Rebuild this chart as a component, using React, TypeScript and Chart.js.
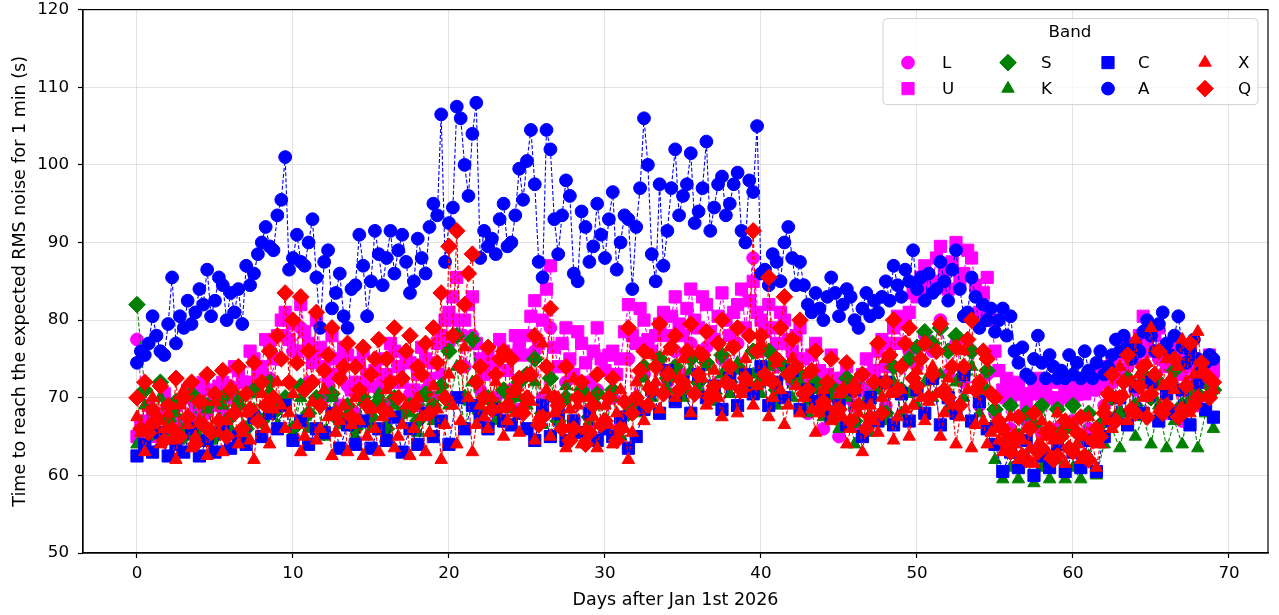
import React, { useEffect, useRef } from "react";
import { Chart, registerables } from "chart.js";

Chart.register(...registerables);

// ---------------- DATA ----------------
const X_TICKS = [0, 10, 20, 30, 40, 50, 60, 70];
const Y_TICKS = [50, 60, 70, 80, 90, 100, 110, 120];

const DAYS_HALF = [
  0, 0.5, 1, 1.5, 2, 2.5, 3, 3.5, 4, 4.5,
  5, 5.5, 6, 6.5, 7, 7.5, 8, 8.5, 9, 9.5,
  10, 10.5, 11, 11.5, 12, 12.5, 13, 13.5, 14, 14.5,
  15, 15.5, 16, 16.5, 17, 17.5, 18, 18.5, 19, 19.5,
  20, 20.5, 21, 21.5, 22, 22.5, 23, 23.5, 24, 24.5,
  25, 25.5, 26, 26.5, 27, 27.5, 28, 28.5, 29, 29.5,
  30, 30.5, 31, 31.5, 32, 32.5, 33, 33.5, 34, 34.5,
  35, 35.5, 36, 36.5, 37, 37.5, 38, 38.5, 39, 39.5,
  40, 40.5, 41, 41.5, 42, 42.5, 43, 43.5, 44, 44.5,
  45, 45.5, 46, 46.5, 47, 47.5, 48, 48.5, 49, 49.5,
  50, 50.5, 51, 51.5, 52, 52.5, 53, 53.5, 54, 54.5,
  55, 55.5, 56, 56.5, 57, 57.5, 58, 58.5, 59, 59.5,
  60, 60.5, 61, 61.5, 62, 62.5, 63, 63.5, 64, 64.5,
  65, 65.5, 66, 66.5, 67, 67.5, 68, 68.5, 69,
];

const DAYS_QUARTER = [
  0, 0.25, 0.5, 0.75, 1, 1.25, 1.5, 1.75, 2, 2.25, 2.5, 2.75, 3, 3.25, 3.5, 3.75, 4, 4.25, 4.5, 4.75,
  5, 5.25, 5.5, 5.75, 6, 6.25, 6.5, 6.75, 7, 7.25, 7.5, 7.75, 8, 8.25, 8.5, 8.75, 9, 9.25, 9.5, 9.75,
  10, 10.25, 10.5, 10.75, 11, 11.25, 11.5, 11.75, 12, 12.25, 12.5, 12.75, 13, 13.25, 13.5, 13.75, 14, 14.25, 14.5, 14.75,
  15, 15.25, 15.5, 15.75, 16, 16.25, 16.5, 16.75, 17, 17.25, 17.5, 17.75, 18, 18.25, 18.5, 18.75, 19, 19.25, 19.5, 19.75,
  20, 20.25, 20.5, 20.75, 21, 21.25, 21.5, 21.75, 22, 22.25, 22.5, 22.75, 23, 23.25, 23.5, 23.75, 24, 24.25, 24.5, 24.75,
  25, 25.25, 25.5, 25.75, 26, 26.25, 26.5, 26.75, 27, 27.25, 27.5, 27.75, 28, 28.25, 28.5, 28.75, 29, 29.25, 29.5, 29.75,
  30, 30.25, 30.5, 30.75, 31, 31.25, 31.5, 31.75, 32, 32.25, 32.5, 32.75, 33, 33.25, 33.5, 33.75, 34, 34.25, 34.5, 34.75,
  35, 35.25, 35.5, 35.75, 36, 36.25, 36.5, 36.75, 37, 37.25, 37.5, 37.75, 38, 38.25, 38.5, 38.75, 39, 39.25, 39.5, 39.75,
  40, 40.25, 40.5, 40.75, 41, 41.25, 41.5, 41.75, 42, 42.25, 42.5, 42.75, 43, 43.25, 43.5, 43.75, 44, 44.25, 44.5, 44.75,
  45, 45.25, 45.5, 45.75, 46, 46.25, 46.5, 46.75, 47, 47.25, 47.5, 47.75, 48, 48.25, 48.5, 48.75, 49, 49.25, 49.5, 49.75,
  50, 50.25, 50.5, 50.75, 51, 51.25, 51.5, 51.75, 52, 52.25, 52.5, 52.75, 53, 53.25, 53.5, 53.75, 54, 54.25, 54.5, 54.75,
  55, 55.25, 55.5, 55.75, 56, 56.25, 56.5, 56.75, 57, 57.25, 57.5, 57.75, 58, 58.25, 58.5, 58.75, 59, 59.25, 59.5, 59.75,
  60, 60.25, 60.5, 60.75, 61, 61.25, 61.5, 61.75, 62, 62.25, 62.5, 62.75, 63, 63.25, 63.5, 63.75, 64, 64.25, 64.5, 64.75,
  65, 65.25, 65.5, 65.75, 66, 66.25, 66.5, 66.75, 67, 67.25, 67.5, 67.75, 68, 68.25, 68.5, 68.75, 69,
];

// half-day sampled bands
const L_VALUES = [
  77.5, 66, 68, 65, 69, 66.5, 70, 67, 71, 68,
  70, 68.5, 71.5, 70, 72, 71, 73, 72.5, 75, 78,
  76, 79, 72, 75.5, 70, 73, 69, 71.5, 68, 72,
  68.5, 71, 69, 72, 68, 70.5, 69, 71, 70, 73,
  77, 80, 74, 78, 71, 66.5, 70, 67, 71, 68.5,
  73, 76, 70, 79, 68, 72, 67, 70.5, 66, 71,
  67, 70, 66.5, 75, 70, 73, 71, 74, 72, 76,
  73, 77, 72, 76.5, 71.5, 75, 73, 77, 72, 88,
  76, 79, 74, 77, 72, 75, 68, 73, 66, 71,
  65, 70, 66.5, 71, 67, 72, 69, 74, 71, 76,
  74, 78, 76, 80, 73, 77, 72, 76, 69, 73,
  68, 70, 66, 70.5, 67, 71, 65.5, 70, 66, 71,
  67, 70.5, 66, 71, 69, 72, 70, 74, 71, 76,
  70, 75, 68, 73.5, 67, 72, 69, 74, 73,
];

const S_VALUES = [
  82, 71, 65.5, 72, 67, 69.5, 65, 70.5, 66.5, 69,
  65, 70, 67.5, 69, 66, 71, 67, 72, 68.5, 70,
  66, 71.5, 68, 70, 65.5, 70.5, 67, 69, 66, 70,
  67.5, 69.5, 66, 70, 68, 69, 67, 70.5, 69, 71.5,
  76, 78, 70, 77.5, 68, 70, 69, 71, 70, 72,
  73, 75, 68, 72.5, 67, 70, 66, 71, 67.5, 70.5,
  67, 71, 66, 68, 69, 74, 71, 75, 72.5, 74,
  71, 75, 72, 74.5, 70.5, 75.5, 72, 74, 71.5, 76,
  72, 76, 71, 74, 72.5, 73, 70, 72, 68.5, 71.5,
  70, 72.5, 67, 73, 70, 71.5, 68, 74, 71, 75,
  76.5, 78.5, 77, 79, 76, 78, 73, 76, 71, 73.5,
  68.5, 66, 69, 65, 68, 66.5, 69, 65.5, 68.5, 66,
  69, 65, 68, 66, 67, 70, 68, 72.5, 69, 73,
  70, 72, 68.5, 73.5, 69, 71, 70.5, 72, 71,
];

const K_VALUES = [
  64, 69, 65.5, 70, 64.5, 68, 66, 70.5, 65, 68.5,
  65.5, 69, 66, 70, 65, 68.5, 67, 71, 66.5, 69,
  65.5, 70, 66, 69.5, 65, 70, 66.5, 68, 65, 69.5,
  66, 70.5, 65, 69, 66.5, 68, 65.5, 70, 67, 71,
  69, 74, 66, 72, 68, 70, 67, 71, 68.5, 70,
  69, 72, 66.5, 70, 68, 71.5, 66, 70.5, 67, 69,
  66, 70, 65, 68.5, 68, 72.5, 70, 74, 71, 73,
  70, 73.5, 71, 74, 69.5, 73, 70.5, 74.5, 71, 73,
  70.5, 74, 69, 73, 70, 72, 68, 71, 67.5, 70,
  66, 70, 64, 69, 65.5, 71, 67, 72, 68, 70.5,
  69, 72, 70, 73, 68.5, 72, 70, 74, 68, 71,
  62, 59.5, 61, 59.5, 62.5, 59, 61, 59.5, 62, 59.5,
  61, 59.5, 62.5, 60, 64, 66, 63.5, 68, 65, 67.5,
  64, 69, 63.5, 67, 64, 70, 63.5, 68, 66,
];

const C_VALUES = [
  62.5, 64, 63, 65.5, 62.5, 64, 63, 66, 62.5, 64.5,
  63, 66.5, 63.5, 65, 64, 67.5, 65, 68, 66, 69,
  64.5, 67, 64, 66, 65.5, 68, 63.5, 66.5, 64, 67,
  63.5, 66, 64.5, 67.5, 63, 66, 64, 68, 65, 67,
  64, 70, 66, 69, 67.5, 66, 68.5, 67, 66.5, 68,
  66, 64.5, 69, 65, 68, 64.5, 67, 65.5, 68, 64.5,
  66, 65, 67.5, 63.5, 65, 68.5, 71, 68, 73.5, 69.5,
  72, 68, 73, 70, 71.5, 68.5, 72.5, 69, 73, 70.5,
  74, 69, 72, 70, 73.5, 68.5, 71, 69.5, 70, 67.5,
  69, 66.5, 71, 65, 70, 67, 72, 66.5, 70.5, 67,
  71, 68, 72.5, 66.5, 70, 68, 73, 67, 69.5, 66,
  64, 60.5, 63, 61, 64.5, 60, 62.5, 61, 64, 60.5,
  63, 61, 64.5, 60.5, 65, 67, 70, 66.5, 71.5, 68,
  72, 67, 70.5, 68, 71, 66.5, 72, 68.5, 67.5,
];

// quarter-day sampled bands
const U_VALUES = [
  65, 67, 64, 69, 66.5, 65, 68, 70.5, 65, 67.5, 69, 66, 67, 71, 70, 68.5, 68, 72, 71, 69,
  69.5, 71.5, 72, 70, 71, 74, 73.5, 72, 72, 76, 75, 73, 74, 77.5, 76.5, 75, 78, 80, 81, 77.5,
  79.5, 76, 82, 78.5, 77, 74.5, 80, 76.5, 74, 72, 78, 75, 73, 76.5, 75.5, 71, 72, 74.5, 76, 73,
  71.5, 73.5, 75, 72, 73, 77, 76, 74, 72, 75.5, 74.5, 71, 73, 76.5, 75, 72.5, 74.5, 77, 78, 80,
  81, 83, 85.5, 78, 80, 82, 83, 77, 75, 73, 76, 74.5, 74.5, 77.5, 76, 73.5, 75.5, 78, 77, 75.5,
  78, 80.5, 82.5, 77, 80, 84, 87, 76.5, 74, 77, 79, 75, 73, 78.5, 77, 74.5, 72, 76, 79, 75,
  73.5, 75.5, 76, 73, 75, 78.5, 82, 78, 77, 81.5, 80, 77.5, 76, 78, 79.5, 81, 78, 80.5, 83, 79.5,
  78, 81.5, 84, 80, 79, 83, 82, 78.5, 77.5, 80.5, 83.5, 80, 78, 81, 82, 84, 79, 82.5, 85, 81,
  80, 78.5, 82, 79, 77, 81, 80, 77.5, 76, 78, 79, 75, 72.5, 75.5, 77, 73.5, 71, 73, 75.5, 72.5,
  70, 72.5, 74, 71, 69, 71.5, 73, 75, 71, 73.5, 76, 77.5, 74, 77, 79, 80.5, 77, 79.5, 81, 83.5,
  83, 85.5, 87, 84, 85, 88, 89.5, 86.5, 84, 87.5, 90, 85, 86, 89, 88, 84.5, 81, 83.5, 85.5, 80,
  76, 73.5, 71, 72.5, 70, 71, 72, 70.5, 69, 70.5, 71.5, 72.5, 70.5, 71, 72, 70, 69.5, 72, 71, 70,
  70, 71.5, 72, 70.5, 71, 72.5, 73.5, 72, 72, 74, 75, 73.5, 73, 75.5, 77, 76, 75, 78, 80.5, 77.5,
  76, 78, 79, 75.5, 74, 76, 77.5, 75, 73, 75, 76, 74, 72.5, 73.5, 74.5, 75.5, 74,
];

const A_VALUES = [
  74.5, 76, 75.5, 77, 80.5, 78, 76, 75.5, 79.5, 85.5, 77, 80.5, 79, 82.5, 79.5, 81, 84, 82, 86.5, 80.5,
  82.5, 85.5, 84.5, 80, 83.5, 81, 84, 79.5, 87, 84.5, 86, 88.5, 90, 92, 89.5, 89, 93.5, 95.5, 101, 86.5,
  88, 91, 87.5, 87, 90, 93, 85.5, 79, 87.5, 89, 81.5, 83.5, 86, 80.5, 79, 84, 84.5, 91, 87, 80.5,
  85, 91.5, 88.5, 84.5, 88, 91.5, 86, 89, 91, 87.5, 83.5, 85, 90.5, 88, 86, 92, 95, 93.5, 106.5, 87.5,
  92.5, 94.5, 107.5, 106, 100, 96, 104, 108, 88, 91.5, 89.5, 90.5, 88.5, 93, 95, 89.5, 90, 93.5, 99.5, 95.5,
  100.5, 104.5, 97.5, 87.5, 85.5, 104.5, 102, 93, 88.5, 93.5, 98, 96, 86, 85, 94, 92, 87.5, 89.5, 95, 91,
  88, 93, 96.5, 86.5, 90, 93.5, 93, 84, 92, 97, 106, 100, 88.5, 85, 97.5, 87, 91.5, 97, 102, 93.5,
  96, 97.5, 101.5, 92.5, 94, 97, 103, 91.5, 94.5, 97.5, 98.5, 93.5, 95, 97.5, 99, 91.5, 90, 98, 96.5, 105,
  86, 86.5, 84.5, 88.5, 87.5, 85, 90, 92, 88, 84.5, 87.5, 84.5, 82, 81, 83.5, 81.5, 80, 83, 85.5, 83.5,
  80.5, 82, 84, 83, 80, 79, 81.5, 83.5, 80.5, 82.5, 81, 83, 85, 82.5, 87, 84.5, 83, 86.5, 85, 89,
  84, 85.5, 82.5, 86, 83.5, 84, 87.5, 85, 82.5, 86.5, 89, 84, 80.5, 81, 85.5, 83, 79, 82, 80, 81.5,
  78.5, 80, 81.5, 78, 80.5, 76, 74.5, 76.5, 73, 72.5, 75, 78, 74.5, 72.5, 75.5, 74, 72.5, 73.5, 72.5, 75.5,
  73, 74.5, 72.5, 76, 73.5, 72.5, 74.5, 76, 73, 74, 75.5, 77.5, 76, 78, 76.5, 75, 77, 76, 78.5, 80,
  78, 76, 79.5, 81, 77, 75.5, 78, 80.5, 76.5, 74.5, 76, 77.5, 75, 73.5, 74.5, 75.5, 75,
];

const X_VALUES = [
  67.5, 65.5, 63, 66.5, 70, 68, 64, 66, 68, 64.5, 62, 69, 71, 66.5, 63.5, 65, 67, 69.5, 62.5, 66,
  69.5, 65.5, 63, 67, 71.5, 68.5, 64, 65.5, 68, 64.5, 62, 67, 70.5, 66, 64, 68.5, 72, 69, 66, 68,
  70.5, 66.5, 63, 65, 68, 69.5, 64.5, 66, 71, 67.5, 62.5, 65.5, 67, 69, 63, 66.5, 70, 67, 62.5, 65,
  68.5, 66, 63, 67.5, 71, 68, 63.5, 65, 66.5, 69, 62.5, 66, 70, 67.5, 63, 65.5, 71.5, 68.5, 62, 66.5,
  73, 69, 64, 67, 76.5, 70, 63, 66.5, 69, 67.5, 66, 70, 72, 68.5, 65, 67, 70.5, 68, 65.5, 69,
  73, 69.5, 64.5, 67.5, 77, 71, 65, 68, 70, 66.5, 63.5, 68.5, 72.5, 69, 64, 66, 70, 67.5, 63.5, 66.5,
  69, 66.5, 64, 68, 71, 66, 62, 65.5, 72, 69.5, 67, 71.5, 75.5, 72, 68.5, 71, 76, 73, 70, 72.5,
  75, 71.5, 68, 70.5, 76, 72.5, 69, 71, 73.5, 70, 67.5, 72, 76.5, 71.5, 68, 70.5, 75, 72, 69, 71.5,
  77, 72, 67.5, 70, 74.5, 71, 66.5, 69, 75, 71.5, 68, 70, 73, 68.5, 65.5, 68, 71, 69, 67, 68.5,
  70.5, 67.5, 64, 66, 72, 68, 63, 66.5, 69, 67, 65.5, 70, 75, 70.5, 64.5, 67.5, 71, 68.5, 65, 69,
  73.5, 70, 67, 69.5, 74, 70.5, 65, 68, 72.5, 69, 64, 67.5, 76, 71, 63.5, 66.5, 71, 67, 64, 65.5,
  66, 64.5, 63, 65, 67.5, 64, 62, 64.5, 66, 63.5, 61.5, 64, 67, 65, 62.5, 64.5, 68, 65.5, 61.5, 63.5,
  66.5, 64, 62, 65, 67.5, 64.5, 61, 64, 69, 67, 66, 70, 74, 70.5, 67, 72, 77.5, 73, 70, 74.5,
  79, 73, 68.5, 71.5, 75, 72.5, 71, 74, 77.5, 72, 68, 73, 78.5, 73.5, 70, 72.5, 71,
];

const Q_VALUES = [
  70, 66, 72, 65.5, 68.5, 67, 71.5, 64.5, 69, 66, 72.5, 65, 70, 67.5, 72, 64, 69.5, 66.5, 73, 65.5,
  70.5, 67, 73.5, 65, 71, 68, 74, 66, 70.5, 68.5, 74.5, 67, 72, 69, 76, 70, 78, 75, 83.5, 72,
  80, 74.5, 83, 71, 76, 72, 81, 69, 73.5, 75.5, 79, 68, 72.5, 74, 77, 67.5, 74, 71, 76.5, 69,
  73, 75, 77.5, 68.5, 75, 72, 79, 70, 72.5, 76, 78, 69, 74, 73, 77, 68, 79, 74.5, 83.5, 70,
  89.5, 78, 91.5, 74, 82, 86, 88.5, 72, 74, 70, 76.5, 68.5, 73, 75, 76, 69, 75, 71, 72.5, 68,
  70, 73, 78, 66.5, 67.5, 74, 81.5, 70, 69, 66, 74, 64.5, 66, 70, 72, 64, 65.5, 69, 73, 66.5,
  67, 70, 72.5, 64.5, 66, 69.5, 79, 68, 70, 73.5, 76, 69, 71, 74, 79.5, 70.5, 73, 76.5, 78, 71,
  72, 76, 79.5, 70.5, 73, 75.5, 78.5, 70, 71.5, 77, 80, 72, 74, 76.5, 79, 71, 72.5, 78, 91.5, 76,
  78, 73, 85.5, 72, 75, 79, 83, 73, 77.5, 74, 80, 70.5, 71, 73.5, 76, 68.5, 69.5, 72, 75, 67.5,
  68.5, 71, 74.5, 67, 71, 69, 73, 66, 67.5, 72, 77, 68, 72, 75.5, 80, 71, 74, 77, 79, 72.5,
  71.5, 75, 77, 70, 73, 76, 79.5, 71, 70, 74, 76.5, 69, 74, 77.5, 80, 71, 72, 76, 75, 70.5,
  70, 67, 66, 64, 63, 65, 67.5, 62.5, 62, 66, 68, 63, 63.5, 65.5, 66, 62, 62.5, 65, 67, 63.5,
  63, 65.5, 67.5, 62.5, 62, 64.5, 66, 65, 68, 70.5, 73, 67, 70, 72, 75.5, 68.5, 68, 71.5, 74, 67.5,
  70.5, 73, 76, 68, 69, 72, 75, 67.5, 68.5, 71.5, 77, 69, 70, 74.5, 73, 70, 72,
];

// ---------------- STYLE ----------------
const FONT = "DejaVu Sans";
const MAGENTA = "#ff00ff";
const GREEN = "#008000";
const BLUE = "#0000ff";
const RED = "#ff0000";

type SeriesDef = {
  label: string;
  days: number[];
  values: number[];
  color: string;
  style: string;
  radius: number;
  order: number;
};

const SERIES: SeriesDef[] = [
  { label: "L", days: DAYS_HALF, values: L_VALUES, color: MAGENTA, style: "circle", radius: 6.4, order: 8 },
  { label: "U", days: DAYS_QUARTER, values: U_VALUES, color: MAGENTA, style: "rect", radius: 8.6, order: 7 },
  { label: "S", days: DAYS_HALF, values: S_VALUES, color: GREEN, style: "rectRot", radius: 8.3, order: 6 },
  { label: "K", days: DAYS_HALF, values: K_VALUES, color: GREEN, style: "triangle", radius: 7.2, order: 5 },
  { label: "C", days: DAYS_HALF, values: C_VALUES, color: BLUE, style: "rect", radius: 8.6, order: 4 },
  { label: "A", days: DAYS_QUARTER, values: A_VALUES, color: BLUE, style: "circle", radius: 6.4, order: 3 },
  { label: "X", days: DAYS_QUARTER, values: X_VALUES, color: RED, style: "triangle", radius: 7.2, order: 2 },
  { label: "Q", days: DAYS_QUARTER, values: Q_VALUES, color: RED, style: "rectRot", radius: 8.3, order: 1 },
];

const LEGEND_COLUMNS = [
  ["L", "U"],
  ["S", "K"],
  ["C", "A"],
  ["X", "Q"],
];

function drawShape(ctx: CanvasRenderingContext2D, style: string, x: number, y: number, r: number) {
  ctx.beginPath();
  if (style === "circle") {
    ctx.arc(x, y, r, 0, Math.PI * 2);
  } else if (style === "rect") {
    const s = r * Math.SQRT1_2;
    ctx.rect(x - s, y - s, 2 * s, 2 * s);
  } else if (style === "rectRot") {
    ctx.moveTo(x - r, y);
    ctx.lineTo(x, y - r);
    ctx.lineTo(x + r, y);
    ctx.lineTo(x, y + r);
    ctx.closePath();
  } else {
    ctx.moveTo(x, y - r);
    ctx.lineTo(x + 0.866 * r, y + 0.5 * r);
    ctx.lineTo(x - 0.866 * r, y + 0.5 * r);
    ctx.closePath();
  }
  ctx.fill();
  ctx.stroke();
}

const framePlugin = {
  id: "frameAndLegend",
  afterDatasetsDraw(chart: any) {
    const { ctx, chartArea } = chart;
    const { left, top, right, bottom } = chartArea;
    ctx.save();
    const bx = right - 385;
    const by = top + 9;
    const bw = 375;
    const bh = 86;
    const rr = 4;
    ctx.beginPath();
    ctx.moveTo(bx + rr, by);
    ctx.lineTo(bx + bw - rr, by);
    ctx.quadraticCurveTo(bx + bw, by, bx + bw, by + rr);
    ctx.lineTo(bx + bw, by + bh - rr);
    ctx.quadraticCurveTo(bx + bw, by + bh, bx + bw - rr, by + bh);
    ctx.lineTo(bx + rr, by + bh);
    ctx.quadraticCurveTo(bx, by + bh, bx, by + bh - rr);
    ctx.lineTo(bx, by + rr);
    ctx.quadraticCurveTo(bx, by, bx + rr, by);
    ctx.closePath();
    ctx.fillStyle = "rgba(255,255,255,0.8)";
    ctx.fill();
    ctx.strokeStyle = "#d0d0d0";
    ctx.lineWidth = 1;
    ctx.stroke();

    ctx.fillStyle = "#000";
    ctx.font = `16.7px "${FONT}"`;
    ctx.textAlign = "center";
    ctx.textBaseline = "middle";
    ctx.fillText("Band", bx + 187, by + 14);

    const colMarkerX = [25, 125, 225, 322];
    const colLabelX = [59, 158, 255, 355];
    const rowY = [44, 70];
    LEGEND_COLUMNS.forEach((col, ci) => {
      col.forEach((name, ri) => {
        const s = SERIES.find((d) => d.label === name)!;
        const mx = bx + colMarkerX[ci];
        const my = by + rowY[ri];
        ctx.fillStyle = s.color;
        ctx.strokeStyle = s.color;
        ctx.lineWidth = 1;
        drawShape(ctx, s.style, mx, my, s.radius);
        ctx.fillStyle = "#000";
        ctx.textAlign = "left";
        ctx.textBaseline = "middle";
        ctx.fillText(name, bx + colLabelX[ci], my + 1);
      });
    });

    ctx.strokeStyle = "#000";
    ctx.lineWidth = 1.2;
    ctx.strokeRect(left, top, right - left, bottom - top);
    ctx.restore();
  },
};

export default function App() {
  const canvasRef = useRef<HTMLCanvasElement | null>(null);

  useEffect(() => {
    const canvas = canvasRef.current;
    if (!canvas) return;

    const datasets = SERIES.map((s) => ({
      label: s.label,
      data: s.days.map((d, i) => ({ x: d, y: s.values[i] })),
      borderColor: s.color,
      backgroundColor: s.color,
      borderWidth: 1.1,
      borderDash: [4, 2],
      pointStyle: s.style,
      pointRadius: s.radius,
      pointHoverRadius: s.radius,
      pointBorderWidth: 1,
      pointBorderColor: s.color,
      pointBackgroundColor: s.color,
      tension: 0,
      fill: false,
      order: s.order,
    }));

    const gridColor = "rgba(176,176,176,0.35)";

    const chart = new Chart(canvas, {
      type: "line",
      data: { datasets } as any,
      options: {
        responsive: false,
        animation: false,
        devicePixelRatio: 1,
        events: [],
        layout: { padding: { left: 0, top: 8, right: 11, bottom: 0 } },
        plugins: {
          legend: { display: false },
          tooltip: { enabled: false },
        },
        scales: {
          x: {
            type: "linear",
            min: -3.46,
            max: 72.5,
            afterBuildTicks: (scale: any) => {
              scale.ticks = X_TICKS.map((v) => ({ value: v }));
            },
            afterFit: (scale: any) => {
              scale.height = 62;
              scale.paddingLeft = 0;
              scale.paddingRight = 0;
            },
            grid: {
              color: gridColor,
              lineWidth: 1,
              drawTicks: true,
              tickLength: 5,
              tickColor: "#000",
              tickWidth: 1.2,
            },
            border: { display: true, color: "#000", width: 1.2 },
            ticks: {
              color: "#000",
              font: { family: FONT, size: 16.7 },
              padding: 6,
              maxRotation: 0,
              autoSkip: false,
            },
            title: {
              display: true,
              text: "Days after Jan 1st 2026",
              color: "#000",
              font: { family: FONT, size: 17.5 },
              padding: { top: 0, bottom: 4.5 },
            },
          },
          y: {
            type: "linear",
            min: 50,
            max: 120,
            afterBuildTicks: (scale: any) => {
              scale.ticks = Y_TICKS.map((v) => ({ value: v }));
            },
            afterFit: (scale: any) => {
              scale.width = 83;
              scale.paddingTop = 0;
              scale.paddingBottom = 0;
            },
            grid: {
              color: gridColor,
              lineWidth: 1,
              drawTicks: true,
              tickLength: 5,
              tickColor: "#000",
              tickWidth: 1.2,
            },
            border: { display: true, color: "#000", width: 1.2 },
            ticks: {
              color: "#000",
              font: { family: FONT, size: 16.7 },
              padding: 9,
            },
            title: {
              display: true,
              text: "Time to reach the expected RMS noise for 1 min (s)",
              color: "#000",
              font: { family: FONT, size: 17.5 },
              padding: { top: 9.5, bottom: 0 },
            },
          },
        },
      } as any,
      plugins: [framePlugin],
    });

    return () => {
      chart.destroy();
    };
  }, []);

  return (
    <div style={{ position: "absolute", left: 0, top: 0, width: 1279, height: 615, background: "#fff" }}>
      <canvas ref={canvasRef} width={1279} height={615} style={{ display: "block", width: 1279, height: 615 }} />
    </div>
  );
}
